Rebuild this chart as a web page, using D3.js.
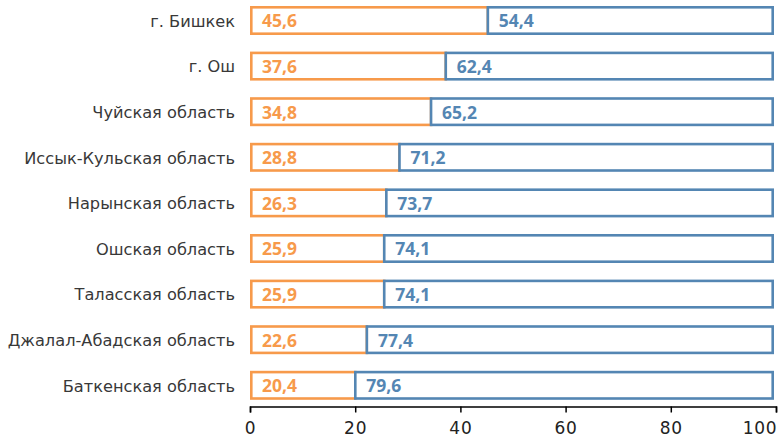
<!DOCTYPE html>
<html><head><meta charset="utf-8">
<script src="https://cdn.jsdelivr.net/npm/d3@7"></script>
<style>body{margin:0;background:#fff}svg{display:block}</style>
</head><body><svg id="c" width="778" height="439"></svg>
<script>
const categories = ["г. Бишкек","г. Ош","Чуйская область","Иссык-Кульская область","Нарынская область","Ошская область","Таласская область","Джалал-Абадская область","Баткенская область"];
const seriesA = [45.6,37.6,34.8,28.8,26.3,25.9,25.9,22.6,20.4];
const seriesB = [54.4,62.4,65.2,71.2,73.7,74.1,74.1,77.4,79.6];
const tickValues = [0,20,40,60,80,100];
const fmt = v => String(v).replace(".", ",");

const orange = "#F79A4B", blue = "#5486B3";
const font = "'Open Sans', sans-serif";
const lightFont = "'DejaVu Sans', sans-serif";
const svg = d3.select("#c");
const x = d3.scaleLinear().domain([0,100]).range([250,776]);
const y = d3.scaleBand().domain(categories).range([-2.3,408.1]).paddingInner(0.364).paddingOuter(0.182);
const sw = 2.6;
const g = svg.append("g");
categories.forEach((c,i)=>{
  const y0 = y(c), h = y.bandwidth();
  const a = seriesA[i], b = seriesB[i];
  g.append("rect").attr("x", x(0)+sw/2).attr("y", y0+sw/2)
    .attr("width", x(a)-x(0)-sw/2-2).attr("height", h-sw)
    .attr("fill","#fff").attr("stroke",orange).attr("stroke-width",sw);
  g.append("rect").attr("x", x(a)-2).attr("y", y0+sw/2)
    .attr("width", x(a+b)-x(a)-sw/2).attr("height", h-sw)
    .attr("fill","#fff").attr("stroke",blue).attr("stroke-width",sw);
  g.append("text").attr("x", x(0)+12).attr("y", y0+h/2+0.5).attr("dy","0.36em")
    .attr("fill",orange).attr("font-weight","bold").attr("font-size",17.5)
    .attr("font-family",font).text(fmt(a));
  g.append("text").attr("x", x(a)+9).attr("y", y0+h/2+0.5).attr("dy","0.36em")
    .attr("fill",blue).attr("font-weight","bold").attr("font-size",17.5)
    .attr("font-family",font).text(fmt(b));
  g.append("text").attr("x", 235).attr("y", y0+h/2+0.5).attr("dy","0.36em")
    .attr("text-anchor","end").attr("fill","#383838").attr("font-size",16.2)
    .attr("font-family",lightFont).text(c);
});
const ax = svg.append("g").attr("transform","translate(0,406.5)")
  .call(d3.axisBottom(x).tickValues(tickValues).tickSize(6).tickSizeOuter(6).tickFormat(d=>d));
ax.select(".domain").attr("stroke","#000").attr("stroke-width",1.5);
ax.selectAll(".tick line").attr("stroke","#000").attr("stroke-width",1.5);
ax.selectAll(".tick text").attr("font-size",17).attr("fill","#222").attr("dy","1.1em")
  .attr("font-family",lightFont).attr("letter-spacing",0.8)
  .attr("text-anchor", d => d === 100 ? "end" : "middle")
  .attr("x", d => d === 100 ? 1 : 0);
</script></body></html>
